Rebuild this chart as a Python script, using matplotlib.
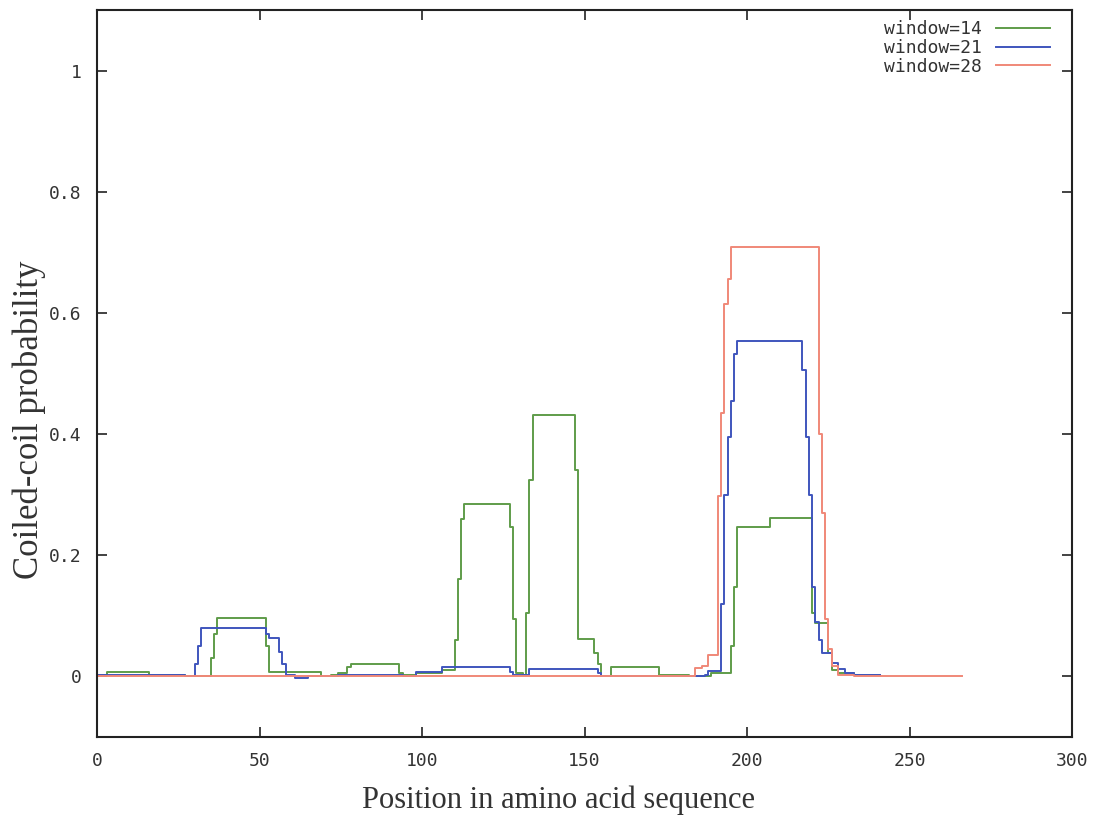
import matplotlib
matplotlib.use("Agg")
import matplotlib.pyplot as plt
from matplotlib.lines import Line2D

# Coiled-coil probability profiles (step breakpoints: residue position, value)
win14_pos = [0, 1, 3, 16, 27, 35, 36, 37, 52, 53, 69, 72, 74, 77, 78, 93, 94, 98,
             106, 110, 111, 112, 113, 127, 128, 129, 131, 132, 133, 134, 147, 148,
             153, 154, 155, 158, 173, 182, 189, 195, 196, 197, 207, 220, 221, 225,
             226, 228, 233, 241]
win14_val = [0.0, 0.003, 0.007, 0.002, 0.0, 0.03, 0.07, 0.097, 0.05, 0.007, 0.0,
             0.003, 0.006, 0.016, 0.021, 0.006, 0.002, 0.006, 0.01, 0.06, 0.16,
             0.26, 0.285, 0.247, 0.094, 0.005, 0.003, 0.105, 0.324, 0.432, 0.34,
             0.061, 0.039, 0.02, 0.0, 0.016, 0.003, 0.0, 0.006, 0.05, 0.148,
             0.247, 0.262, 0.105, 0.088, 0.039, 0.01, 0.005, 0.003, 0.003]

win21_pos = [0, 27, 30, 31, 32, 52, 53, 56, 57, 58, 61, 65, 74, 94, 98, 106, 127,
             128, 133, 154, 155, 187, 188, 192, 193, 194, 195, 196, 197, 217, 218,
             219, 220, 221, 222, 223, 226, 228, 230, 233, 241]
win21_val = [0.002, 0.0, 0.02, 0.05, 0.08, 0.07, 0.064, 0.04, 0.02, 0.002, -0.002,
             0.0, 0.003, 0.0, 0.008, 0.016, 0.008, 0.003, 0.0115, 0.005, 0.0,
             0.003, 0.009, 0.12, 0.30, 0.395, 0.455, 0.532, 0.553, 0.505, 0.395,
             0.30, 0.148, 0.09, 0.06, 0.039, 0.0225, 0.0115, 0.006, 0.002, 0.002]

win28_pos = [0, 184, 186, 188, 191, 192, 193, 194, 195, 222, 223, 224, 225, 226,
             228, 233, 266]
win28_val = [0.0, 0.014, 0.017, 0.036, 0.297, 0.434, 0.615, 0.656, 0.709, 0.40,
             0.27, 0.094, 0.045, 0.017, 0.003, 0.0, 0.0]

series_labels = ["window=14", "window=21", "window=28"]
series_colors = ["#5f9c4a", "#3f55bd", "#f08878"]

x_ticks = [0, 50, 100, 150, 200, 250, 300]
y_ticks = [0, 0.2, 0.4, 0.6, 0.8, 1]
y_tick_labels = ["0", "0.2", "0.4", "0.6", "0.8", "1"]

fig = plt.figure(figsize=(11.07, 8.22), dpi=100)
ax = fig.add_axes([97 / 1107, 1 - 737 / 822, (1072 - 97) / 1107, (737 - 10) / 822])

for xs, ys, col in zip([win14_pos, win21_pos, win28_pos],
                       [win14_val, win21_val, win28_val], series_colors):
    ax.plot(xs, ys, drawstyle="steps-post", color=col, lw=1.4)

ax.set_xlim(0, 300)
ax.set_ylim(-0.1, 1.1)
ax.set_xticks(x_ticks)
ax.set_xticklabels([str(t) for t in x_ticks])
ax.set_yticks(y_ticks)
ax.set_yticklabels(y_tick_labels)

mono = "DejaVu Sans Mono"
ax.tick_params(direction="in", length=7, width=1.2, top=True, right=True,
               colors="#222222", labelsize=13)
ax.tick_params(axis="x", pad=11)
ax.tick_params(axis="y", pad=11)
for lab in ax.get_xticklabels() + ax.get_yticklabels():
    lab.set_family(mono)
    lab.set_color("#333333")
for sp in ax.spines.values():
    sp.set_linewidth(1.5)
    sp.set_color("#222222")

serif = "Liberation Serif"
ax.set_xlabel("Position in amino acid sequence", family=serif, fontsize=22,
              color="#333333")
ax.set_ylabel("Coiled-coil probability", family=serif, fontsize=25,
              color="#333333")
ax.xaxis.set_label_coords((559 - 97) / 975, -(785 - 737) / 727)
ax.yaxis.set_label_coords(-(97 - 46) / 975, (737 - 420) / 727)

handles = [Line2D([], [], color=c, lw=1.4) for c in series_colors]
leg = ax.legend(handles, series_labels, loc="upper right", frameon=False,
                markerfirst=False, borderpad=0, borderaxespad=0,
                bbox_to_anchor=((1050 - 97) / 975, 1 - (20 - 10) / 727),
                handlelength=3.0, handletextpad=0.8, labelspacing=0.05,
                prop={"family": mono, "size": 13})
for t in leg.get_texts():
    t.set_color("#333333")

fig.savefig("out.png", dpi=100)
